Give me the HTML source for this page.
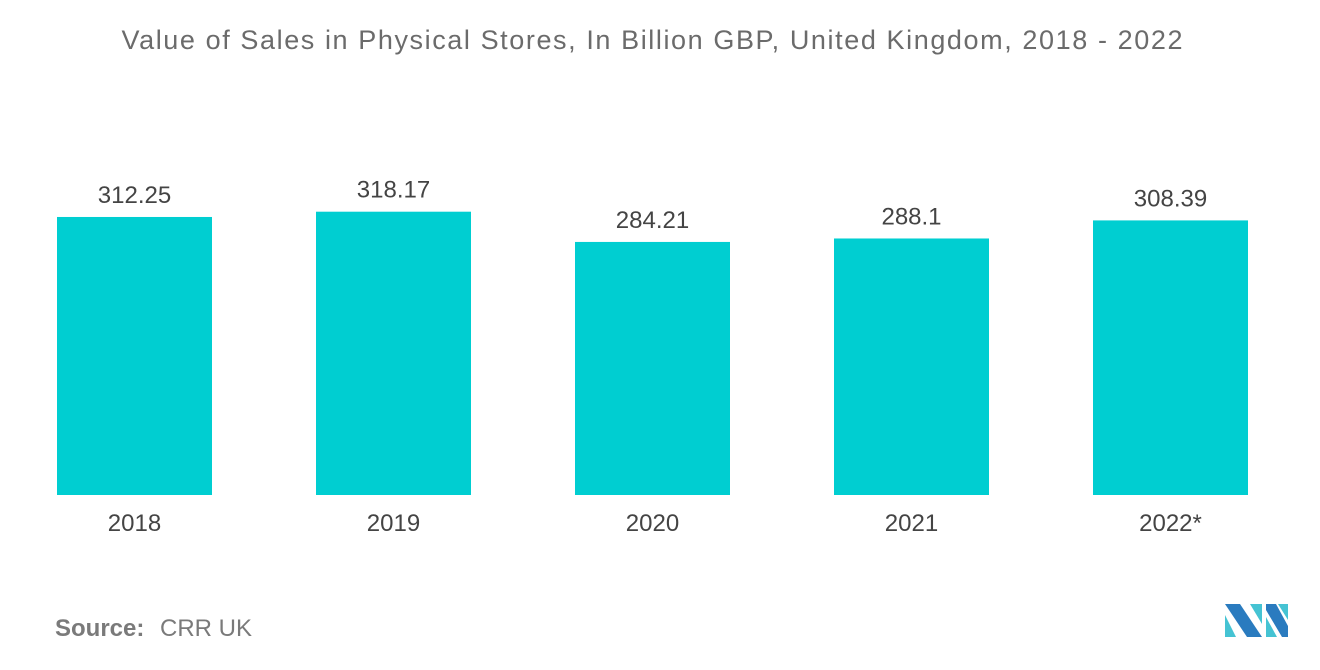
<!DOCTYPE html>
<html><head><meta charset="utf-8"><style>
body{margin:0;width:1320px;height:665px;background:#fff;font-family:"Liberation Sans",sans-serif;overflow:hidden}
</style></head><body>
<svg id="c" width="1320" height="665">
<text x="652" y="49" text-anchor="middle" font-size="27" fill="#6b6b6b" textLength="1061" lengthAdjust="spacing">Value of Sales in Physical Stores, In Billion GBP, United Kingdom, 2018 - 2022</text>
<g id="bars"></g>
<text x="55" y="636" font-size="24" fill="#7a7a7a" font-weight="bold">Source:</text>
<text x="160" y="636" font-size="24" fill="#7a7a7a">CRR UK</text>
<g>
<polygon points="1225,604 1240,604 1262,637 1247,637" fill="#2a7bbf"/>
<polygon points="1225,615 1236,637 1225,637" fill="#45c3d3"/>
<polygon points="1250,604 1262,604 1262,624" fill="#45c3d3"/>
<polygon points="1266,604 1276,604 1288,626 1288,637 1282,637 1266,610" fill="#2a7bbf"/>
<polygon points="1266,617 1277,637 1266,637" fill="#45c3d3"/>
<polygon points="1278,604 1288,604 1288,620" fill="#45c3d3"/>
</g>
</svg>
<script>
const categories=["2018","2019","2020","2021","2022*"];
const values=[312.25,318.17,284.21,288.1,308.39];
const labels=["312.25","318.17","284.21","288.1","308.39"];
const base=495,scale=0.8904,x0=57,step=259,bw=155;
const y=v=>base-v*scale;
const g=document.getElementById('bars');
const ns='http://www.w3.org/2000/svg';
categories.forEach((c,i)=>{
 const x=x0+i*step;
 const r=document.createElementNS(ns,'rect');
 r.setAttribute('x',x);r.setAttribute('y',y(values[i]));r.setAttribute('width',bw);r.setAttribute('height',base-y(values[i]));r.setAttribute('fill','#00ced1');
 
 
 g.appendChild(r);
 const t=document.createElementNS(ns,'text');
 t.setAttribute('x',x+bw/2);t.setAttribute('y',y(values[i])-14);t.setAttribute('text-anchor','middle');t.setAttribute('font-size','24');t.setAttribute('fill','#444');
 t.textContent=labels[i];
 
 
 g.appendChild(t);
 const l=document.createElementNS(ns,'text');
 l.setAttribute('x',x+bw/2);l.setAttribute('y',531);l.setAttribute('text-anchor','middle');l.setAttribute('font-size','24');l.setAttribute('fill','#444');
 l.textContent=c;
 
 
 g.appendChild(l);
});
</script>
</body></html>
